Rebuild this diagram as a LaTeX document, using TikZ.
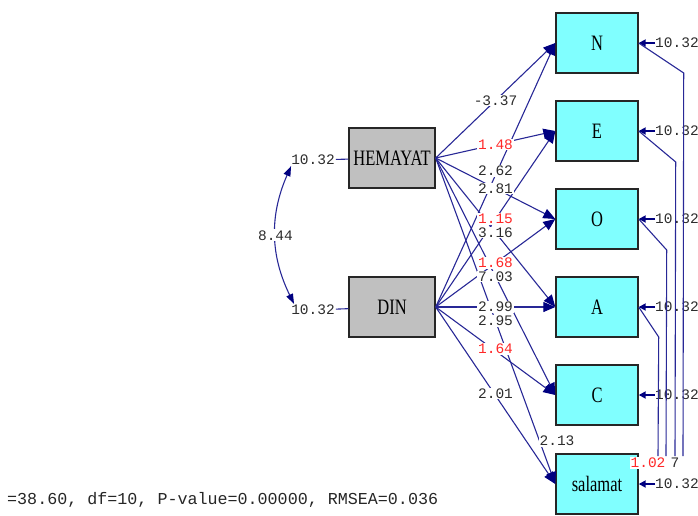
\documentclass[tikz,border=0pt]{standalone}
\usepackage{fontspec}
\setmainfont{Liberation Serif}
\setmonofont{Liberation Mono}
\newfontfamily\boxfont[FakeStretch=0.75]{Liberation Serif}
\usetikzlibrary{arrows.meta}
\definecolor{pathblue}{RGB}{40,40,150}
\definecolor{tipblue}{RGB}{0,0,128}
\definecolor{latgray}{RGB}{192,192,192}
\definecolor{obscyan}{RGB}{128,255,255}
\definecolor{numred}{RGB}{255,40,40}
\definecolor{numgray}{RGB}{45,45,45}

\begin{document}
\begin{tikzpicture}[x=1pt,y=-1pt]
\tikzset{latent/.style = {draw=black!85, line width=1.4pt, fill=latgray, minimum width=86pt, minimum height=60pt, inner sep=0pt, font=\boxfont\fontsize{22}{22}\selectfont}}
\tikzset{observed/.style = {latent, fill=obscyan, minimum width=82pt}}
\tikzset{effect/.style = {-{Triangle[length=12pt,width=10pt,color=tipblue]}, draw=pathblue, line width=1.1pt}}
\tikzset{errarrow/.style = {-{Triangle[length=7pt,width=7pt]}, draw=tipblue, line width=2pt}}
\tikzset{errcov/.style = {draw=pathblue, line width=1.1pt}}
\tikzset{covar/.style = {{Triangle[length=10pt,width=7pt,color=tipblue]}-{Triangle[length=10pt,width=7pt,color=tipblue]}, draw=pathblue, line width=1.1pt}}
\tikzset{num/.style = {fill=white, inner sep=1pt, text=numgray, font=\ttfamily\fontsize{14.5}{14.5}\selectfont}}
\tikzset{rnum/.style = {num, text=numred}}
\tikzset{errnum/.style = {num, fill=none, anchor=west, inner sep=0pt}}
\useasboundingbox (0,0) rectangle (698,515);
\node[latent](hemayat) at (392,158) {HEMAYAT};
\node[latent](din) at (392,307) {DIN};
\node[observed](n) at (597,43) {N};
\node[observed](e) at (597,131) {E};
\node[observed](o) at (597,219) {O};
\node[observed](a) at (597,307) {A};
\node[observed](c) at (597,395) {C};
\node[observed](salamat) at (597,484) {salamat};
\node[num](varh) at (313,160) {10.32};
\node[num](vard) at (313,310) {10.32};
\draw[errcov] (varh) -- (hemayat);
\draw[errcov] (vard) -- (din);
\draw[covar] ([xshift=1pt]varh.south west) to[bend right=25] node[num]{8.44} ([xshift=4pt]vard.north west);
\node[errnum](en) at (655,43) {10.32};
\node[errnum](ee) at (655,131) {10.32};
\node[errnum](eo) at (655,219) {10.32};
\node[errnum](ea) at (655,307) {10.32};
\node[errnum](ec) at (655,395) {10.32};
\node[errnum](es) at (655,484) {10.32};
\draw[errarrow] (en.west) to (n.east);
\draw[errarrow] (ee.west) to (e.east);
\draw[errarrow] (eo.west) to (o.east);
\draw[errarrow] (ea.west) to (a.east);
\draw[errarrow] (ec.west) to (c.east);
\draw[errarrow] (es.west) to (salamat.east);
\coordinate (kn) at (683,456);
\coordinate (ke) at (675,456);
\coordinate (ko) at (666,456);
\coordinate (ka) at (658,456);
\draw[errcov] (n.east) -- ++(45,30) -- (kn);
\draw[errcov] (e.east) -- ++(37,31) -- (ke);
\draw[errcov] (o.east) -- ++(28,31) -- (ko);
\draw[errcov] (a.east) -- ++(20,30) -- (ka);
\draw[effect] (din.east) to coordinate[pos=.5] (dn) (n.west);
\draw[effect] (din.east) to coordinate[pos=.5] (de) (e.west);
\draw[effect] (din.east) to coordinate[pos=.5] (do) (o.west);
\draw[effect] (din.east) to coordinate[pos=.5] (da) (a.west);
\draw[effect] (din.east) to coordinate[pos=.5] (dc) (c.west);
\draw[effect] (din.east) to coordinate[pos=.5] (ds) (salamat.west);
\draw[effect] (hemayat.east) to coordinate[pos=.5] (hn) (n.west);
\draw[effect] (hemayat.east) to coordinate[pos=.5] (he) (e.west);
\draw[effect] (hemayat.east) to coordinate[pos=.5] (ho) (o.west);
\draw[effect] (hemayat.east) to coordinate[pos=.5] (ha) (a.west);
\draw[effect] (hemayat.east) to coordinate[pos=.5] (hc) (c.west);
\draw[effect] (hemayat.east) to coordinate[pos=.5] (hs) (salamat.west);
\node[num](ldn) at ([yshift=4pt]dn) {2.62};
\node[rnum](lde) at (de) {1.15};
\node[rnum](ldo) at (do) {1.68};
\node[num](lda) at (da) {2.99};
\node[rnum](ldc) at ([yshift=2pt]dc) {1.64};
\node[num](lds) at ([yshift=2pt]ds) {2.01};
\node[num](lhn) at (hn) {-3.37};
\node[rnum](lhe) at (he) {1.48};
\node[num](lho) at (ho) {2.81};
\node[num](lha) at (ha) {3.16};
\node[num](lhc) at (hc) {7.03};
\node[num](lhs) at (hs) {2.95};
\node[num](lsal) at (557,441) {2.13};
\node[rnum](lcov) at (648,463) {1.02};
\node[num](lcov2) at (675,463) {7};
\node[anchor=west, inner sep=0pt, text=black!85, font=\ttfamily\fontsize{16.7}{16.7}\selectfont](fitstats) at (7,500) {=38.60, df=10, P-value=0.00000, RMSEA=0.036};
\end{tikzpicture}
\end{document}
